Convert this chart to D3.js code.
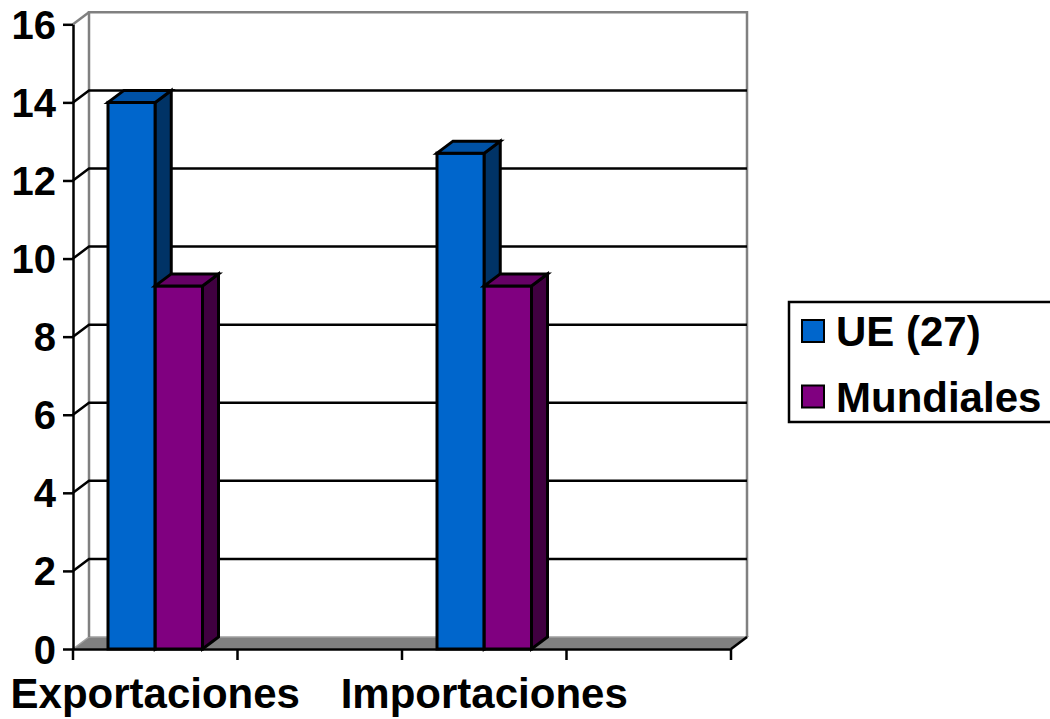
<!DOCTYPE html>
<html>
<head>
<meta charset="utf-8">
<script src="https://cdn.jsdelivr.net/npm/d3@7/dist/d3.min.js"></script>
<style>
  html, body { margin: 0; padding: 0; background: #ffffff; }
  svg { display: block; }
  text { font-family: Arial, "Liberation Sans", sans-serif; font-weight: bold; fill: #000; }
</style>
</head>
<body>
<svg id="chart" width="1050" height="719"></svg>
<script>
// Category slots along the x axis (two slots carry no bars and no label)
const categories = ["Exportaciones", "", "Importaciones", ""];
const seriesNames = ["UE (27)", "Mundiales"];
const ueValues = [14.0, null, 12.7, null];
const mundialesValues = [9.3, null, 9.3, null];
const valueTicks = [0, 2, 4, 6, 8, 10, 12, 14, 16];

const seriesValues = [ueValues, mundialesValues];
const faceColors = [
  { front: "#0066CC", top: "#0052A6", side: "#003366" },
  { front: "#800080", top: "#660066", side: "#400040" }
];

const svg = d3.select("#chart");
const depthX = 16, depthY = -12;
const lineW = 2.5;
const barLineW = 3;
const fontStack = 'Arial, "Liberation Sans", sans-serif';

const y = d3.scaleLinear().domain([0, 16]).range([649, 24.3]);
const x = d3.scaleBand().domain(d3.range(categories.length)).range([73, 731]).paddingInner(0).paddingOuter(0);
const xs = d3.scaleBand().domain(d3.range(seriesNames.length)).range([35, x.bandwidth() - 35]).padding(0);

const x0 = x.range()[0], x1 = x.range()[1];
const y0 = y(0), yTop = y(16);

// Floor
svg.append("polygon")
  .attr("points", [[x0, y0], [x1, y0], [x1 + depthX, y0 + depthY], [x0 + depthX, y0 + depthY]].join(" "))
  .attr("fill", "#808080").attr("stroke", "#a0a0a0").attr("stroke-width", 1.5);

// Back and side walls
const wall = svg.append("g").attr("fill", "none").attr("stroke", "#808080").attr("stroke-width", lineW);
wall.append("path").attr("d",
  `M${x0 + depthX},${y0 + depthY} L${x0 + depthX},${yTop + depthY} L${x1 + depthX},${yTop + depthY} L${x1 + depthX},${y0 + depthY}`);
wall.append("line")
  .attr("x1", x0).attr("y1", yTop).attr("x2", x0 + depthX).attr("y2", yTop + depthY);

// Gridlines on the back wall, with connectors on the side wall
const grid = svg.append("g").attr("stroke", "#000").attr("stroke-width", lineW).attr("fill", "none");
valueTicks.filter(v => v > 0 && v < 16).forEach(v => {
  grid.append("path").attr("d",
    `M${x0},${y(v)} L${x0 + depthX},${y(v) + depthY} L${x1 + depthX},${y(v) + depthY}`);
});
grid.append("line").attr("x1", x1).attr("y1", y0).attr("x2", x1 + depthX).attr("y2", y0 + depthY);

// Bars
const bars = svg.append("g").attr("stroke", "#000").attr("stroke-width", barLineW).attr("stroke-linejoin", "miter");
categories.forEach((c, ci) => {
  seriesValues.forEach((vals, si) => {
    const v = vals[ci];
    if (v == null) return;
    const bx0 = x(ci) + xs(si), bx1 = bx0 + xs.bandwidth();
    const yv = y(v);
    const col = faceColors[si];
    const g = bars.append("g");
    g.append("rect").attr("x", bx0).attr("y", yv).attr("width", bx1 - bx0).attr("height", y0 - yv).attr("fill", col.front);
    g.append("polygon")
      .attr("points", [[bx1, yv], [bx1 + depthX, yv + depthY], [bx1 + depthX, y0 + depthY], [bx1, y0]].join(" "))
      .attr("fill", col.side);
    g.append("polygon")
      .attr("points", [[bx0, yv], [bx0 + depthX, yv + depthY], [bx1 + depthX, yv + depthY], [bx1, yv]].join(" "))
      .attr("fill", col.top);
  });
});

// Value axis
const yAxis = svg.append("g").attr("transform", `translate(${x0},0)`)
  .call(d3.axisLeft(y).tickValues(valueTicks).tickSize(10).tickSizeOuter(0).tickFormat(d3.format("d")));
yAxis.select(".domain").attr("stroke", "#000").attr("stroke-width", lineW);
yAxis.selectAll(".tick line").attr("stroke", "#000").attr("stroke-width", lineW);
yAxis.selectAll(".tick text")
  .attr("x", -17).attr("dy", null).attr("y", 14)
  .attr("text-anchor", "end")
  .style("font-size", "40px").style("font-family", fontStack).style("font-weight", "bold");

// Category axis
const xAxis = svg.append("g").attr("transform", `translate(0,${y0})`)
  .call(d3.axisBottom(x).tickValues([]).tickSize(0).tickSizeOuter(0));
xAxis.select(".domain").attr("stroke", "#000").attr("stroke-width", lineW);
const catTicks = d3.range(categories.length + 1).map(i => x0 + i * x.bandwidth());
svg.append("g").attr("stroke", "#000").attr("stroke-width", lineW)
  .selectAll("line").data(catTicks).join("line")
  .attr("x1", d => d).attr("x2", d => d).attr("y1", y0).attr("y2", y0 + 11);
svg.append("g").selectAll("text").data(categories.map((c, i) => ({ c, i })).filter(d => d.c))
  .join("text")
  .attr("x", d => x(d.i) + x.bandwidth() / 2)
  .attr("y", 708)
  .attr("text-anchor", "middle")
  .style("font-size", "42px")
  .text(d => d.c);

// Legend
const legend = svg.append("g");
legend.append("rect").attr("x", 789).attr("y", 302).attr("width", 270).attr("height", 120)
  .attr("fill", "#fff").attr("stroke", "#000").attr("stroke-width", lineW);
seriesNames.forEach((name, i) => {
  const ly = 320 + i * 65.5;
  legend.append("rect").attr("x", 802).attr("y", ly).attr("width", 22).attr("height", 22)
    .attr("fill", faceColors[i].front).attr("stroke", "#000").attr("stroke-width", 2);
  legend.append("text")
    .attr("x", 836).attr("y", ly + 26)
    .style("font-size", "42px")
    .text(name);
});
</script>
</body>
</html>
